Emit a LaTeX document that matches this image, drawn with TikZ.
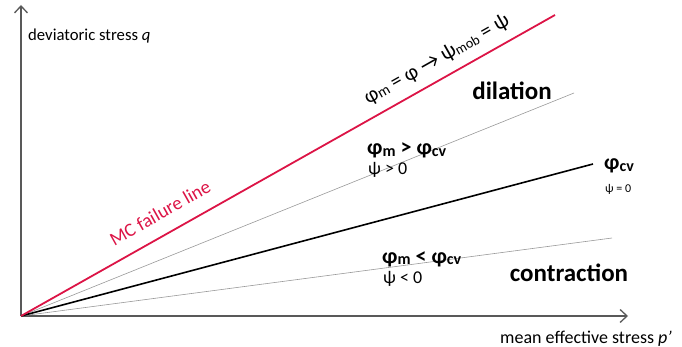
\documentclass[tikz,border=0pt]{standalone}
\usepackage{fontspec}
\setmainfont{Carlito}
\usepackage{xcolor}
\usepackage{tikz}
\usetikzlibrary{arrows.meta}

\definecolor{mcred}{RGB}{220,20,70}
\newcommand{\lowsub}[2][14]{\raisebox{-0.1ex}{\fontsize{#1}{#1}\selectfont #2}}

\begin{document}
\begin{tikzpicture}[x=1pt,y=-1pt,>={Straight Barb[length=7pt,width=13pt]}]
    \useasboundingbox (0,0) rectangle (682,347);
    % axes
    \coordinate (o) at (21,316);
    \coordinate (xend) at (628,316);
    \coordinate (yend) at (21,5);
    \draw[line width=1.3pt,black!65,->] (o) -- (xend);
    \draw[line width=1.3pt,black!65,->] (o) -- (yend);
    \node[anchor=base west,inner sep=0pt,font=\fontsize{16.7}{18}\selectfont] (ylab) at (28,41) {deviatoric stress \textit{q}};
    \node[anchor=base west,inner sep=0pt,font=\fontsize{18}{20}\selectfont] (xlab) at (500,343) {mean effective stress \textit{p'}};
    % lines
    \coordinate (mc) at (555,15);
    \coordinate (dil) at (574,93);
    \coordinate (cv) at (593,164);
    \coordinate (con) at (612,238);
    \draw[line width=0.6pt,black!40] (o) -- (dil);
    \draw[line width=0.6pt,black!40] (o) -- (con);
    \draw[line width=1.6pt,black] (o) -- (cv);
    \draw[line width=1.8pt,mcred] (o) -- (mc);
    % labels
    \node[rotate=29.4,text=mcred,font=\fontsize{19}{20}\selectfont] (mclab) at (160,213) {MC failure line};
    \node[rotate=29.4,font=\fontsize{21}{22}\selectfont] (mob) at (437,60) {φ\lowsub[15]{m} = φ → ψ\lowsub[14]{mob} = ψ};
    \node[font=\bfseries\fontsize{25}{26}\selectfont] (dilation) at (512,91) {dilation};
    \node[font=\bfseries\fontsize{25}{26}\selectfont] (contraction) at (569,273) {contraction};
    \node[anchor=base west,inner sep=0pt,font=\bfseries\fontsize{22}{22}\selectfont] (gt) at (367,155)
        {φ\lowsub[16]{m} \textgreater{} φ\lowsub[16]{cv}};
    \node[anchor=base west,inner sep=0pt,font=\fontsize{18}{18}\selectfont] (gtpsi) at (368,175) {ψ \textgreater{} 0};
    \node[anchor=base west,inner sep=0pt,font=\bfseries\fontsize{22}{22}\selectfont] (lt) at (382,263)
        {φ\lowsub[16]{m} \textless{} φ\lowsub[16]{cv}};
    \node[anchor=base west,inner sep=0pt,font=\fontsize{18}{18}\selectfont] (ltpsi) at (383,283) {ψ \textless{} 0};
    \node[anchor=base west,inner sep=0pt,font=\bfseries\fontsize{22}{22}\selectfont] (cvlab) at (604,170) {φ\lowsub[16]{cv}};
    \node[anchor=base west,inner sep=0pt,font=\fontsize{12}{12}\selectfont] (cvpsi) at (605,193) {ψ = 0};
\end{tikzpicture}
\end{document}
